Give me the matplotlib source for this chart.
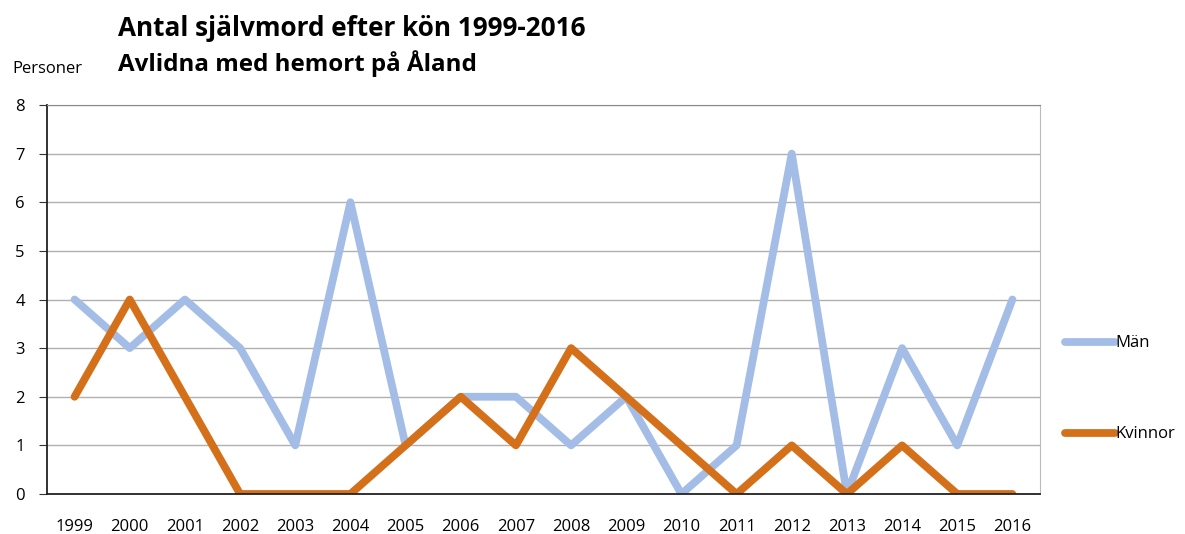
import matplotlib.pyplot as plt

plt.rcParams['font.family'] = ['Open Sans', 'DejaVu Sans']

years = ['1999', '2000', '2001', '2002', '2003', '2004', '2005', '2006', '2007',
         '2008', '2009', '2010', '2011', '2012', '2013', '2014', '2015', '2016']
man = [4, 3, 4, 3, 1, 6, 1, 2, 2, 1, 2, 0, 1, 7, 0, 3, 1, 4]
kvinnor = [2, 4, 2, 0, 0, 0, 1, 2, 1, 3, 2, 1, 0, 1, 0, 1, 0, 0]

fig = plt.figure(figsize=(11.85, 5.34), dpi=100)
ax = fig.add_axes([47 / 1185, 1 - 494 / 534, 993 / 1185, 389 / 534])

x = range(len(years))
ax.plot(x, man, color='#a3bde6', lw=5.6, label='Män', solid_capstyle='round',
        solid_joinstyle='round')
ax.plot(x, kvinnor, color='#d4701a', lw=5.6, label='Kvinnor', solid_capstyle='round',
        solid_joinstyle='round')

ax.set_xlim(-0.5, len(years) - 0.5)
ax.set_ylim(0, 8)
ax.set_xticks(list(x))
ax.set_xticklabels(years)
ax.set_yticks(range(0, 9))
ax.tick_params(axis='x', length=0, pad=18, labelsize=12)
ax.tick_params(axis='y', length=6, direction='out', color='#333333', labelsize=12, pad=10)
ax.yaxis.grid(True, color='#b0b0b0', lw=1)
ax.set_axisbelow(True)

for s in ['left', 'bottom']:
    ax.spines[s].set_color('#222222')
    ax.spines[s].set_linewidth(1.3)
ax.spines['top'].set_color('#888888')
ax.spines['right'].set_color('#bbbbbb')

fig.text(118 / 1185, 1 - 28 / 534, 'Antal självmord efter kön 1999-2016',
         fontsize=18.8, fontweight='bold', va='center', ha='left')
fig.text(118 / 1185, 1 - 64 / 534, 'Avlidna med hemort på Åland',
         fontsize=17.4, fontweight='bold', va='center', ha='left')
fig.text(12 / 1185, 1 - 69 / 534, 'Personer', fontsize=12, va='center', ha='left')

ax.legend(loc='center left', bbox_to_anchor=(1.01, 0.27), frameon=False,
          fontsize=12, handlelength=3.0, handletextpad=0.0, labelspacing=4.5)

fig.savefig('out.png', dpi=100)
